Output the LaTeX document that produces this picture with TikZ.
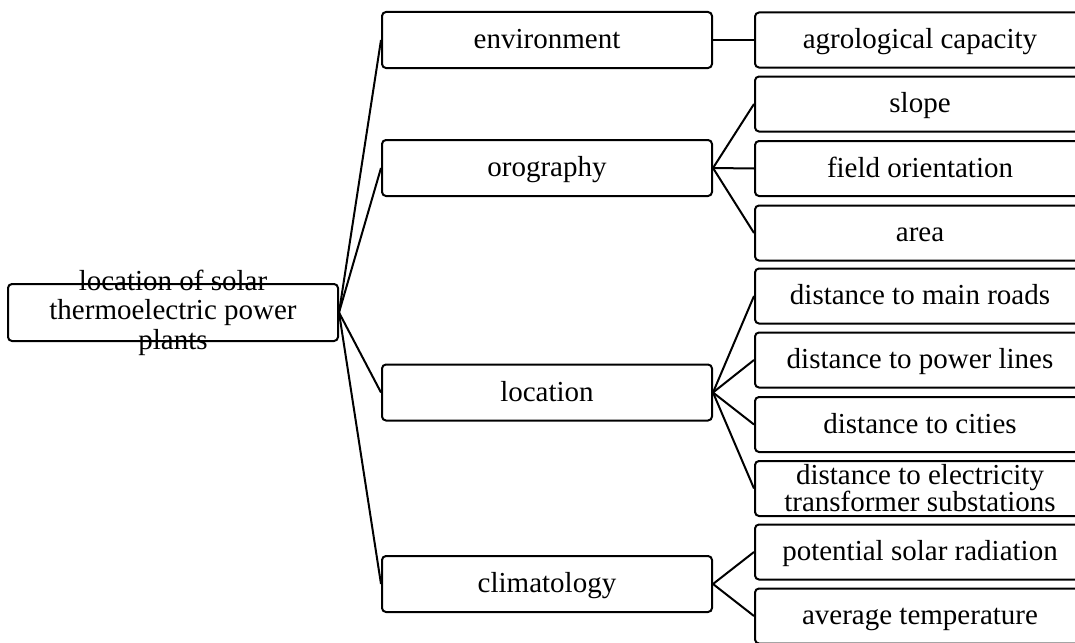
\documentclass[tikz,border=0pt]{standalone}
\usepackage{fontspec}
\setmainfont{Liberation Serif}
\begin{document}
\begin{tikzpicture}[x=1pt,y=-1pt,
  box/.style={draw, line width=2pt, rounded corners=4pt, minimum width=330pt, minimum height=55pt, inner sep=0pt, text height=25pt, text depth=8pt, font=\fontsize{29}{28}\selectfont},
  midbox/.style={box, minimum height=56pt},
  rootbox/.style={box, minimum height=57pt},
  txt/.style={inner sep=0pt, align=center, font=\fontsize{29}{29.5}\selectfont},
  txttwo/.style={txt, font=\fontsize{29}{27}\selectfont},
  link/.style={line width=2pt}]
\useasboundingbox (0,0) rectangle (1075,642);
% root
\node[rootbox] (root) at (173,312.5) {};
\node[txt] (rootT) at (root.center) {location of solar\\thermoelectric power\\plants};
% middle
\node[midbox] (env) at (547,40) {environment};
\node[midbox] (oro) at (547,168) {orography};
\node[midbox] (loc) at (547,392.5) {location};
\node[midbox] (cli) at (547,584) {climatology};
% right
\node[box] (agr) at (920,40) {agrological capacity};
\node[box] (slo) at (920,104) {slope};
\node[box] (fie) at (920,168.5) {field orientation};
\node[box] (are) at (920,233) {area};
\node[box] (roa) at (920,296) {distance to main roads};
\node[box] (pow) at (920,360) {distance to power lines};
\node[box] (cit) at (920,424.5) {distance to cities};
\node[box] (tra) at (920,488.5) {};
\node[txttwo] (traT) at (tra.center) {distance to electricity\\transformer substations};
\node[box] (sol) at (920,552) {potential solar radiation};
\node[box] (tem) at (920,616) {average temperature};
% connectors
\foreach \m in {env,oro,loc,cli} \draw[link] (root.east) -- (\m.west);
\draw[link] (env.east) -- (agr.west);
\foreach \r in {slo,fie,are} \draw[link] (oro.east) -- (\r.west);
\foreach \r in {roa,pow,cit,tra} \draw[link] (loc.east) -- (\r.west);
\foreach \r in {sol,tem} \draw[link] (cli.east) -- (\r.west);
\end{tikzpicture}
\end{document}
